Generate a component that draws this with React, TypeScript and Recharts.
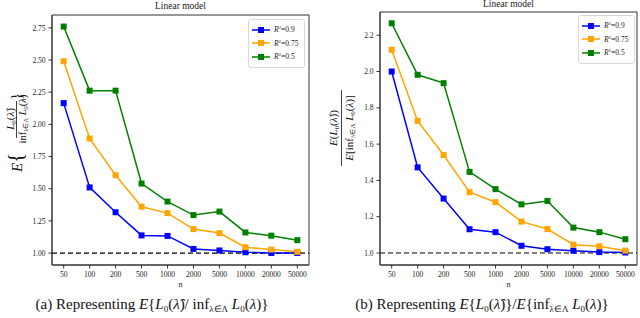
import { LineChart, Line, XAxis, YAxis, ReferenceLine, ReferenceArea } from "recharts";

const nLabels = ["50", "100", "200", "500", "1000", "2000", "5000", "10000", "20000", "50000"];

// (a) E{L0 / inf L0}
const leftR09 = [2.165, 1.51, 1.317, 1.137, 1.133, 1.032, 1.02, 1.006, 1.0, 1.0];
const leftR075 = [2.49, 1.89, 1.605, 1.36, 1.31, 1.186, 1.155, 1.045, 1.027, 1.01];
const leftR05 = [2.76, 2.262, 2.262, 1.54, 1.40, 1.295, 1.322, 1.16, 1.135, 1.10];
const leftTicks = [1.0, 1.25, 1.5, 1.75, 2.0, 2.25, 2.5, 2.75];

// (b) E{L0} / E{inf L0}
const rightR09 = [2.0, 1.472, 1.30, 1.131, 1.115, 1.04, 1.021, 1.013, 1.005, 1.003];
const rightR075 = [2.12, 1.728, 1.54, 1.335, 1.28, 1.173, 1.132, 1.046, 1.037, 1.013];
const rightR05 = [2.266, 1.982, 1.936, 1.447, 1.352, 1.268, 1.287, 1.14, 1.115, 1.076];
const rightTicks = [1.0, 1.2, 1.4, 1.6, 1.8, 2.0, 2.2];

const series = [
  { key: "r09", label: "0.9", color: "#0000ff" },
  { key: "r075", label: "0.75", color: "#ffa500" },
  { key: "r05", label: "0.5", color: "#008000" },
];

const leftRows = nLabels.map((n, i) => ({ i, n, r09: leftR09[i], r075: leftR075[i], r05: leftR05[i] }));
const rightRows = nLabels.map((n, i) => ({ i, n, r09: rightR09[i], r075: rightR075[i], r05: rightR05[i] }));

const SERIF = "Liberation Serif";
const tickStyle = { fill: "#222", fontSize: 7.5, fontFamily: SERIF };
const X_DOMAIN: [number, number] = [-0.45, 9.45];

const squareDot = (color: string) => (p: any) => (
  <rect key={p.key ?? p.index} x={p.cx - 3} y={p.cy - 3} width={6} height={6} fill={color} />
);

const LeftYLabel = () => (
  <g fontFamily={SERIF} fill="#111">
    <text transform="translate(22,172) rotate(-90)">
      <tspan fontSize={15} fontStyle="italic">E</tspan>
      <tspan fontSize={21}>{"{"}</tspan>
    </text>
    <text transform="translate(14,119) rotate(-90)" fontSize={11} textAnchor="middle">
      <tspan fontStyle="italic">L</tspan>
      <tspan fontSize={7} dy={2}>0</tspan>
      <tspan dy={-2}>(</tspan>
      <tspan fontStyle="italic">λ̂</tspan>
      <tspan>)</tspan>
    </text>
    <line x1={16.5} x2={16.5} y1={101} y2={138} stroke="#111" strokeWidth={0.8} />
    <text transform="translate(26,119) rotate(-90)" fontSize={10.5} textAnchor="middle">
      <tspan>inf</tspan>
      <tspan fontSize={6.5} dy={2}>λ∈Λ</tspan>
      <tspan dy={-2}> </tspan>
      <tspan fontStyle="italic">L</tspan>
      <tspan fontSize={6.5} dy={2}>0</tspan>
      <tspan dy={-2}>(</tspan>
      <tspan fontStyle="italic">λ</tspan>
      <tspan>)</tspan>
    </text>
    <text transform="translate(21,100) rotate(-90)" fontSize={15}>{"}"}</text>
  </g>
);

const RightYLabel = () => (
  <g fontFamily={SERIF} fill="#111">
    <text transform="translate(17,128) rotate(-90)" fontSize={11} textAnchor="middle">
      <tspan fontStyle="italic">E</tspan>
      <tspan>(</tspan>
      <tspan fontStyle="italic">L</tspan>
      <tspan fontSize={7} dy={2}>0</tspan>
      <tspan dy={-2}>(</tspan>
      <tspan fontStyle="italic">λ̂</tspan>
      <tspan>))</tspan>
    </text>
    <line x1={21.5} x2={21.5} y1={90} y2={166} stroke="#111" strokeWidth={0.8} />
    <text transform="translate(33,128) rotate(-90)" fontSize={11} textAnchor="middle">
      <tspan fontStyle="italic">E</tspan>
      <tspan>[inf</tspan>
      <tspan fontSize={7} dy={2}>λ∈Λ</tspan>
      <tspan dy={-2}> </tspan>
      <tspan fontStyle="italic">L</tspan>
      <tspan fontSize={7} dy={2}>0</tspan>
      <tspan dy={-2}>(</tspan>
      <tspan fontStyle="italic">λ</tspan>
      <tspan>)]</tspan>
    </text>
  </g>
);

const LegendBox = ({ left, top, rowGap }: { left: number; top: number; rowGap: number }) => (
  <div
    style={{
      position: "absolute", left, top, padding: "3px 6px 3px 3px",
      border: "1px solid #d8d8d8", borderRadius: 3, background: "#fff",
      fontFamily: SERIF, fontSize: 7.5, color: "#222",
    }}
  >
    {series.map((s) => (
      <div key={s.key} style={{ display: "flex", alignItems: "center", height: rowGap }}>
        <svg width={18} height={8} style={{ marginRight: 4 }}>
          <line x1={0} x2={18} y1={4} y2={4} stroke={s.color} strokeWidth={1.5} />
          <rect x={6} y={1} width={6} height={6} fill={s.color} />
        </svg>
        <span>
          <i>R</i>
          <sup style={{ fontSize: 5, verticalAlign: 3 }}>2</sup>={s.label}
        </span>
      </div>
    ))}
  </div>
);

type PanelProps = {
  rows: any[];
  domain: [number, number];
  ticks: number[];
  digits: number;
  yWidth: number;
  margin: { top: number; right: number; left: number; bottom: number };
  YLabel: () => any;
};

function Panel({ rows, domain, ticks, digits, yWidth, margin, YLabel }: PanelProps) {
  return (
    <LineChart width={320} height={290} data={rows} margin={margin}>
      <ReferenceArea x1={X_DOMAIN[0]} x2={X_DOMAIN[1]} y1={domain[0]} y2={domain[1]}
        fill="none" stroke="#333" strokeWidth={1} />
      <XAxis dataKey="i" type="number" domain={X_DOMAIN} ticks={[0, 1, 2, 3, 4, 5, 6, 7, 8, 9]}
        interval={0} allowDataOverflow tickFormatter={(v) => nLabels[v]}
        tick={tickStyle} tickSize={3.5} tickMargin={3} stroke="#333" height={25}
        label={{ value: "n", position: "insideBottom", offset: 3, fill: "#222", fontSize: 8, fontFamily: SERIF }} />
      <YAxis type="number" domain={domain} ticks={ticks} allowDataOverflow width={yWidth}
        tickFormatter={(v) => v.toFixed(digits)} tick={tickStyle} tickSize={3.5} tickMargin={3} stroke="#333"
        label={{ content: () => <YLabel /> }} />
      <ReferenceLine y={1} stroke="#000" strokeDasharray="5 3" strokeWidth={1.2} />
      {series.map((s) => (
        <Line key={s.key} dataKey={s.key} stroke={s.color} strokeWidth={1.5}
          dot={squareDot(s.color)} isAnimationActive={false} />
      ))}
    </LineChart>
  );
}

const captionStyle = {
  position: "absolute" as const, top: 295, width: 300, textAlign: "center" as const,
  fontFamily: SERIF, fontSize: 15, lineHeight: "18px", color: "#111", whiteSpace: "nowrap" as const,
};
const subStyle = { fontSize: 9, verticalAlign: -3, lineHeight: 0 };

export default function App() {
  return (
    <div style={{ position: "absolute", left: 0, top: 0, width: 640, height: 318, background: "#fff", overflow: "hidden" }}>
      <div style={{ position: "absolute", left: 0, top: 0 }}>
        <Panel rows={leftRows} domain={[0.907, 2.85]} ticks={leftTicks} digits={2} yWidth={52}
          margin={{ top: 15, right: 11, left: 0, bottom: 0 }} YLabel={LeftYLabel} />
      </div>
      <div style={{ position: "absolute", left: 320, top: 0 }}>
        <Panel rows={rightRows} domain={[0.934, 2.328]} ticks={rightTicks} digits={1} yWidth={60}
          margin={{ top: 12, right: 3, left: 0, bottom: 0 }} YLabel={RightYLabel} />
      </div>

      <div style={{ position: "absolute", left: 52, top: 1, width: 257, textAlign: "center", fontFamily: SERIF, fontSize: 9.5, color: "#222" }}>
        Linear model
      </div>
      <div style={{ position: "absolute", left: 380, top: -1, width: 257, textAlign: "center", fontFamily: SERIF, fontSize: 9.5, color: "#222" }}>
        Linear model
      </div>

      <LegendBox left={248} top={19} rowGap={13.5} />
      <LegendBox left={578} top={15} rowGap={13.5} />

      <div style={{ ...captionStyle, left: 2 }}>
        (a) Representing <i>E</i>{"{"}<i>L</i><sub style={subStyle}>0</sub>(<i>λ̂</i>)/ inf<sub style={subStyle}>λ∈Λ</sub> <i>L</i><sub style={subStyle}>0</sub>(<i>λ</i>){"}"}
      </div>
      <div style={{ ...captionStyle, left: 332 }}>
        (b) Representing <i>E</i>{"{"}<i>L</i><sub style={subStyle}>0</sub>(<i>λ̂</i>){"}"}/<i>E</i>{"{"}inf<sub style={subStyle}>λ∈Λ</sub> <i>L</i><sub style={subStyle}>0</sub>(<i>λ</i>){"}"}
      </div>
    </div>
  );
}
